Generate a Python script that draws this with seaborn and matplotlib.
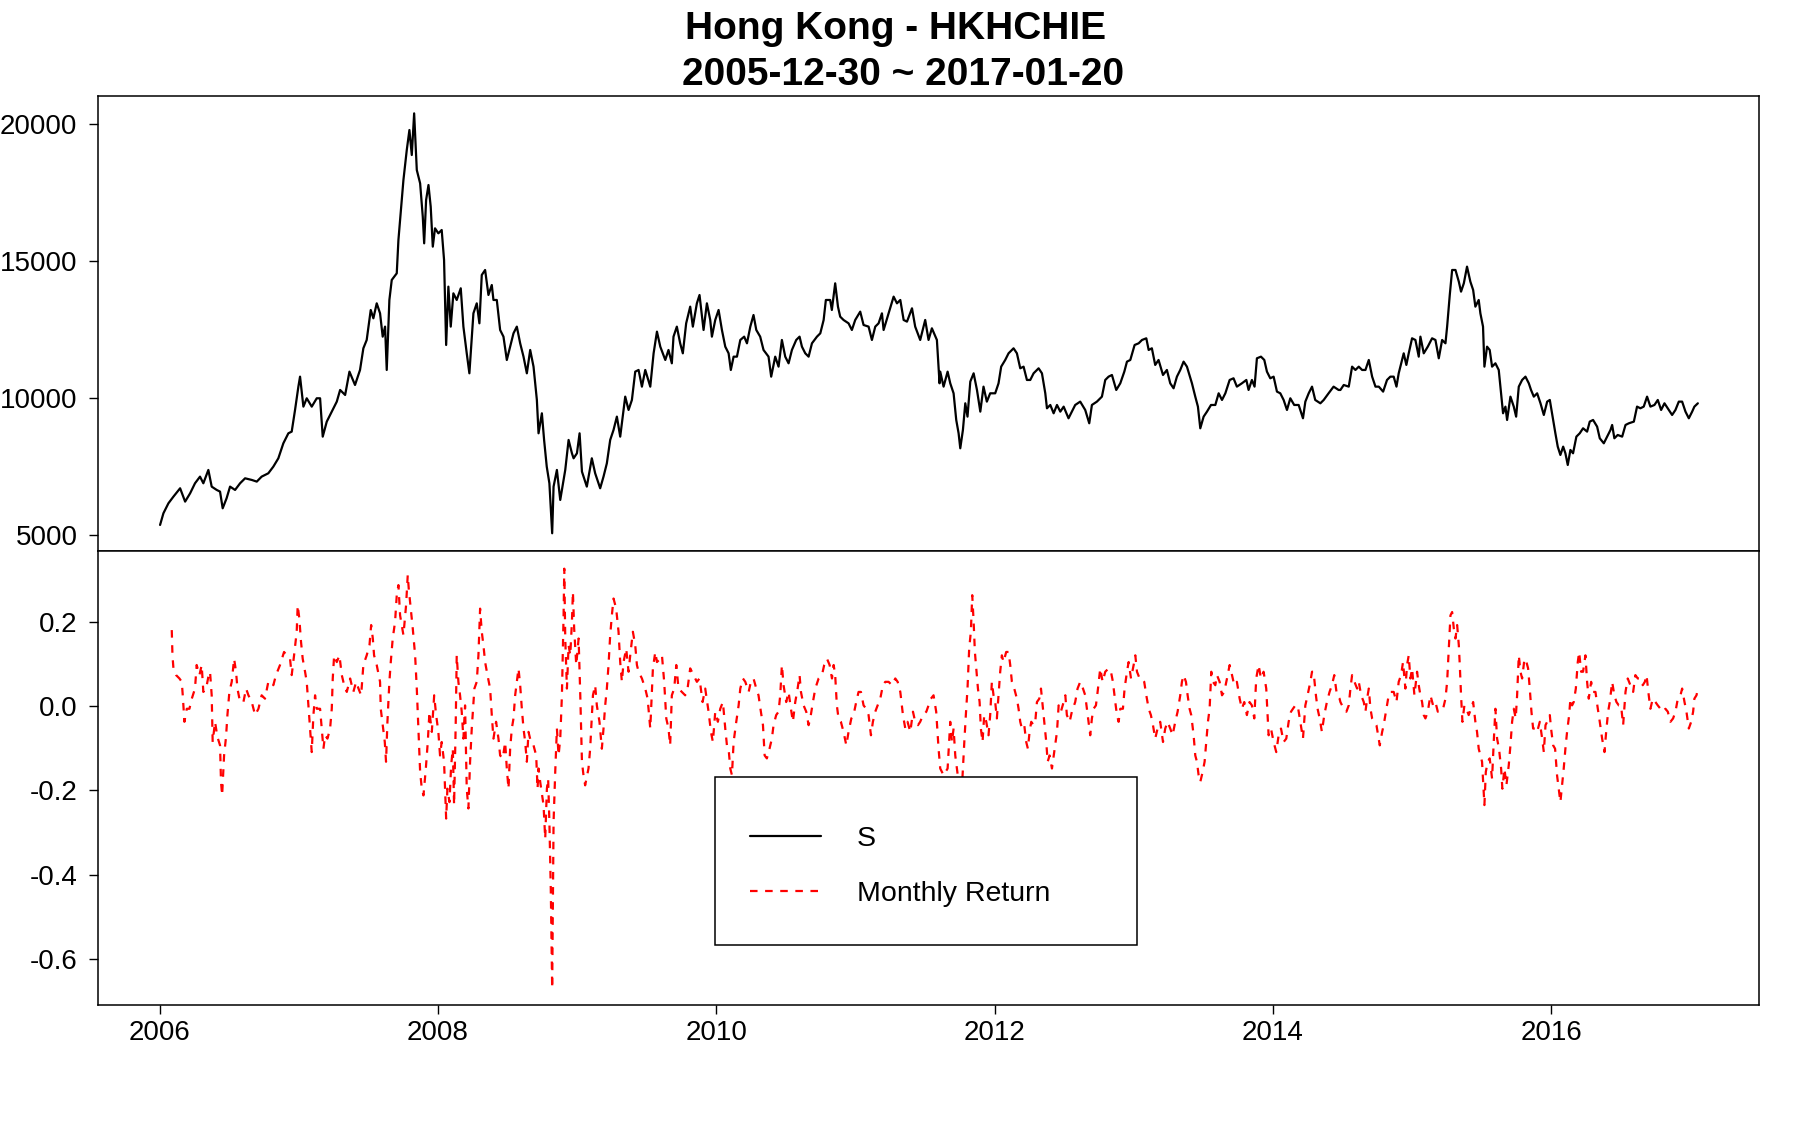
import matplotlib
matplotlib.use("Agg")
import matplotlib.pyplot as plt
from matplotlib.lines import Line2D
from matplotlib.patches import Rectangle
import pandas as pd
import seaborn as sns

# ---------------- data ----------------
title_line1 = "Hong Kong - HKHCHIE"
title_line2 = "2005-12-30 ~ 2017-01-20"
x_ticks = [2006, 2008, 2010, 2012, 2014, 2016]
s_ticks = [5000, 10000, 15000, 20000]
r_ticks = [0.2, 0.0, -0.2, -0.4, -0.6]
legend_labels = ["S", "Monthly Return"]

# index level S (decimal year, value)
s_year = [
    2006.003, 2006.027, 2006.063, 2006.099, 2006.147, 2006.183, 2006.219, 2006.254, 2006.290, 2006.314,
    2006.350, 2006.374, 2006.410, 2006.434, 2006.453, 2006.481, 2006.506, 2006.542, 2006.578, 2006.614,
    2006.662, 2006.698, 2006.733, 2006.781, 2006.817, 2006.853, 2006.889, 2006.925, 2006.949, 2006.973,
    2006.997, 2007.009, 2007.033, 2007.057, 2007.093, 2007.129, 2007.153, 2007.172, 2007.201, 2007.237,
    2007.273, 2007.297, 2007.333, 2007.364, 2007.404, 2007.440, 2007.464, 2007.488, 2007.517, 2007.536,
    2007.560, 2007.584, 2007.603, 2007.620, 2007.632, 2007.651, 2007.668, 2007.704, 2007.716, 2007.752,
    2007.776, 2007.795, 2007.812, 2007.829, 2007.848, 2007.872, 2007.891, 2007.901, 2007.915, 2007.932,
    2007.948, 2007.963, 2007.979, 2008.003, 2008.027, 2008.044, 2008.059, 2008.075, 2008.092, 2008.111,
    2008.135, 2008.164, 2008.183, 2008.207, 2008.226, 2008.255, 2008.279, 2008.298, 2008.315, 2008.339,
    2008.363, 2008.387, 2008.399, 2008.423, 2008.447, 2008.471, 2008.495, 2008.519, 2008.543, 2008.567,
    2008.591, 2008.615, 2008.639, 2008.663, 2008.687, 2008.711, 2008.723, 2008.747, 2008.763, 2008.782,
    2008.801, 2008.821, 2008.831, 2008.855, 2008.879, 2008.915, 2008.939, 2008.963, 2008.975, 2008.999,
    2009.018, 2009.035, 2009.070, 2009.106, 2009.130, 2009.166, 2009.190, 2009.214, 2009.238, 2009.262,
    2009.286, 2009.310, 2009.346, 2009.370, 2009.394, 2009.418, 2009.442, 2009.466, 2009.490, 2009.526,
    2009.550, 2009.574, 2009.598, 2009.634, 2009.657, 2009.681, 2009.693, 2009.717, 2009.741, 2009.760,
    2009.784, 2009.813, 2009.832, 2009.861, 2009.880, 2009.909, 2009.933, 2009.957, 2009.969, 2009.993,
    2010.017, 2010.041, 2010.065, 2010.089, 2010.105, 2010.125, 2010.149, 2010.173, 2010.201, 2010.221,
    2010.245, 2010.268, 2010.288, 2010.316, 2010.340, 2010.376, 2010.395, 2010.424, 2010.448, 2010.472,
    2010.496, 2010.520, 2010.544, 2010.575, 2010.599, 2010.616, 2010.640, 2010.664, 2010.688, 2010.724,
    2010.748, 2010.772, 2010.788, 2010.819, 2010.831, 2010.855, 2010.875, 2010.891, 2010.915, 2010.951,
    2010.975, 2010.999, 2011.035, 2011.059, 2011.095, 2011.119, 2011.143, 2011.167, 2011.191, 2011.203,
    2011.239, 2011.275, 2011.299, 2011.323, 2011.347, 2011.371, 2011.407, 2011.430, 2011.466, 2011.502,
    2011.526, 2011.550, 2011.586, 2011.605, 2011.610, 2011.634, 2011.663, 2011.682, 2011.706, 2011.725,
    2011.742, 2011.754, 2011.773, 2011.790, 2011.806, 2011.826, 2011.850, 2011.874, 2011.898, 2011.921,
    2011.945, 2011.969, 2012.005, 2012.029, 2012.048, 2012.077, 2012.101, 2012.137, 2012.161, 2012.185,
    2012.209, 2012.233, 2012.257, 2012.281, 2012.317, 2012.341, 2012.365, 2012.377, 2012.401, 2012.425,
    2012.449, 2012.473, 2012.497, 2012.532, 2012.556, 2012.580, 2012.616, 2012.652, 2012.681, 2012.700,
    2012.736, 2012.772, 2012.796, 2012.820, 2012.844, 2012.875, 2012.904, 2012.933, 2012.952, 2012.976,
    2013.007, 2013.036, 2013.060, 2013.091, 2013.108, 2013.131, 2013.155, 2013.179, 2013.211, 2013.239,
    2013.263, 2013.287, 2013.311, 2013.335, 2013.359, 2013.383, 2013.419, 2013.443, 2013.462, 2013.479,
    2013.503, 2013.527, 2013.556, 2013.587, 2013.611, 2013.635, 2013.659, 2013.690, 2013.718, 2013.742,
    2013.778, 2013.810, 2013.826, 2013.850, 2013.869, 2013.886, 2013.915, 2013.939, 2013.958, 2013.982,
    2014.006, 2014.030, 2014.054, 2014.078, 2014.102, 2014.126, 2014.154, 2014.186, 2014.217, 2014.234,
    2014.258, 2014.282, 2014.305, 2014.342, 2014.366, 2014.401, 2014.437, 2014.473, 2014.486, 2014.510,
    2014.546, 2014.570, 2014.594, 2014.618, 2014.642, 2014.666, 2014.690, 2014.714, 2014.738, 2014.762,
    2014.793, 2014.821, 2014.845, 2014.869, 2014.889, 2014.905, 2014.929, 2014.941, 2014.960, 2014.977,
    2015.001, 2015.025, 2015.049, 2015.061, 2015.085, 2015.114, 2015.145, 2015.169, 2015.193, 2015.217,
    2015.241, 2015.253, 2015.272, 2015.289, 2015.313, 2015.337, 2015.353, 2015.373, 2015.396, 2015.420,
    2015.440, 2015.456, 2015.480, 2015.492, 2015.511, 2015.521, 2015.540, 2015.559, 2015.576, 2015.600,
    2015.624, 2015.641, 2015.655, 2015.672, 2015.684, 2015.708, 2015.732, 2015.749, 2015.768, 2015.792,
    2015.816, 2015.840, 2015.856, 2015.876, 2015.900, 2015.924, 2015.948, 2015.972, 2015.991, 2016.015,
    2016.031, 2016.048, 2016.067, 2016.087, 2016.103, 2016.120, 2016.139, 2016.158, 2016.182, 2016.206,
    2016.230, 2016.259, 2016.278, 2016.302, 2016.331, 2016.350, 2016.379, 2016.403, 2016.427, 2016.439,
    2016.455, 2016.479, 2016.511, 2016.535, 2016.559, 2016.595, 2016.618, 2016.642, 2016.666, 2016.690,
    2016.714, 2016.743, 2016.767, 2016.791, 2016.815, 2016.846, 2016.870, 2016.894, 2016.918, 2016.942,
    2016.966, 2016.990, 2017.014, 2017.030, 2017.055,
]
s_value = [
    5363, 5789, 6154, 6397, 6702, 6215, 6519, 6884, 7127, 6884,
    7371, 6762, 6641, 6580, 5971, 6336, 6762, 6641, 6884, 7066,
    7006, 6945, 7127, 7249, 7492, 7796, 8344, 8709, 8770, 9561,
    10412, 10777, 9682, 9987, 9682, 9987, 9987, 8587, 9135, 9500,
    9865, 10291, 10108, 10960, 10473, 11021, 11812, 12116, 13211, 12907,
    13454, 13089, 12237, 12603, 11021, 13576, 14306, 14549, 15766, 17956,
    19051, 19781, 18868, 20389, 18321, 17834, 16618, 15644, 17226, 17773,
    16983, 15523, 16192, 16009, 16131, 15036, 11933, 14063, 12603, 13819,
    13576, 14002, 12603, 11629, 10899, 13089, 13454, 12724, 14488, 14671,
    13758, 14123, 13576, 13576, 12481, 12237, 11386, 11872, 12359, 12603,
    11994, 11507, 10899, 11751, 11142, 9926, 8709, 9439, 8466, 7492,
    6884, 5059, 6762, 7371, 6276, 7371, 8466, 7979, 7796, 7979,
    8709, 7310, 6762, 7796, 7249, 6702, 7127, 7614, 8466, 8831,
    9317, 8587, 10047, 9561, 9926, 10960, 11021, 10412, 11021, 10412,
    11629, 12420, 11872, 11386, 11751, 11264, 12237, 12603, 11994, 11629,
    12724, 13332, 12603, 13454, 13758, 12481, 13454, 12846, 12237, 12846,
    13211, 12481, 11872, 11629, 11021, 11507, 11507, 12116, 12237, 11994,
    12603, 13028, 12481, 12237, 11751, 11507, 10777, 11507, 11142, 12116,
    11507, 11264, 11751, 12116, 12237, 11872, 11629, 11507, 11994, 12237,
    12359, 12846, 13576, 13576, 13211, 14184, 13332, 12967, 12846, 12724,
    12481, 12846, 13150, 12663, 12603, 12116, 12603, 12724, 13089, 12481,
    13089, 13698, 13454, 13576, 12846, 12785, 13272, 12603, 12116, 12846,
    12116, 12542, 12116, 10534, 10960, 10412, 10960, 10534, 10169, 9196,
    8709, 8162, 8831, 9804, 9317, 10595, 10899, 10291, 9500, 10412,
    9865, 10169, 10169, 10534, 11142, 11386, 11629, 11812, 11629, 11082,
    11142, 10656, 10656, 10899, 11082, 10899, 10169, 9622, 9743, 9439,
    9743, 9500, 9682, 9257, 9500, 9743, 9865, 9561, 9074, 9743,
    9865, 10047, 10656, 10777, 10838, 10291, 10534, 10960, 11325, 11386,
    11933, 11994, 12116, 12177, 11751, 11812, 11204, 11386, 10838, 11021,
    10534, 10352, 10777, 11021, 11325, 11142, 10534, 10047, 9682, 8892,
    9317, 9500, 9743, 9743, 10169, 9926, 10169, 10656, 10717, 10412,
    10534, 10656, 10291, 10656, 10412, 11447, 11507, 11386, 10960, 10717,
    10777, 10230, 10169, 9926, 9561, 9987, 9743, 9743, 9257, 9865,
    10169, 10412, 9926, 9804, 9926, 10169, 10412, 10291, 10291, 10473,
    10412, 11142, 11021, 11142, 11021, 11021, 11386, 10777, 10412, 10412,
    10230, 10656, 10777, 10777, 10412, 10899, 11386, 11629, 11204, 11629,
    12177, 12116, 11507, 12237, 11629, 11872, 12177, 12116, 11447, 12116,
    11994, 12603, 13758, 14671, 14671, 14245, 13880, 14184, 14793, 14245,
    13941, 13332, 13576, 13089, 12603, 11142, 11872, 11751, 11142, 11264,
    11021, 10169, 9439, 9682, 9196, 10047, 9682, 9317, 10412, 10656,
    10777, 10534, 10291, 10047, 10169, 9804, 9378, 9865, 9926, 9196,
    8709, 8222, 7918, 8222, 7979, 7553, 8101, 7979, 8587, 8709,
    8892, 8770, 9135, 9196, 8952, 8527, 8344, 8587, 8831, 9013,
    8527, 8648, 8587, 9013, 9074, 9135, 9683, 9622, 9683, 10047,
    9683, 9743, 9926, 9561, 9804, 9561, 9378, 9561, 9865, 9865,
    9500, 9257, 9500, 9682, 9804,
]

# monthly return (decimal year, value)
r_year = [
    2006.087, 2006.092, 2006.099, 2006.118, 2006.142, 2006.159, 2006.166, 2006.178, 2006.195, 2006.214,
    2006.231, 2006.254, 2006.266, 2006.286, 2006.302, 2006.314, 2006.334, 2006.350, 2006.362, 2006.374,
    2006.381, 2006.398, 2006.415, 2006.434, 2006.441, 2006.449, 2006.463, 2006.477, 2006.487, 2006.501,
    2006.518, 2006.535, 2006.549, 2006.559, 2006.578, 2006.602, 2006.621, 2006.638, 2006.662, 2006.686,
    2006.710, 2006.733, 2006.757, 2006.781, 2006.805, 2006.817, 2006.836, 2006.865, 2006.894, 2006.913,
    2006.937, 2006.949, 2006.966, 2006.985, 2006.992, 2007.004, 2007.016, 2007.028, 2007.045, 2007.057,
    2007.069, 2007.081, 2007.093, 2007.105, 2007.117, 2007.129, 2007.153, 2007.165, 2007.177, 2007.189,
    2007.206, 2007.225, 2007.237, 2007.244, 2007.254, 2007.273, 2007.292, 2007.309, 2007.326, 2007.345,
    2007.369, 2007.392, 2007.412, 2007.429, 2007.448, 2007.464, 2007.488, 2007.508, 2007.520, 2007.532,
    2007.541, 2007.560, 2007.584, 2007.589, 2007.603, 2007.618, 2007.627, 2007.637, 2007.651, 2007.661,
    2007.675, 2007.692, 2007.704, 2007.716, 2007.728, 2007.740, 2007.752, 2007.771, 2007.783, 2007.790,
    2007.805, 2007.819, 2007.836, 2007.848, 2007.862, 2007.872, 2007.884, 2007.896, 2007.913, 2007.927,
    2007.939, 2007.956, 2007.973, 2007.987, 2008.003, 2008.015, 2008.027, 2008.044, 2008.059, 2008.068,
    2008.083, 2008.095, 2008.107, 2008.116, 2008.128, 2008.135, 2008.147, 2008.159, 2008.171, 2008.183,
    2008.195, 2008.207, 2008.219, 2008.231, 2008.243, 2008.262, 2008.279, 2008.291, 2008.303, 2008.315,
    2008.327, 2008.339, 2008.356, 2008.375, 2008.387, 2008.399, 2008.418, 2008.435, 2008.447, 2008.466,
    2008.483, 2008.495, 2008.507, 2008.519, 2008.531, 2008.543, 2008.555, 2008.567, 2008.579, 2008.591,
    2008.603, 2008.615, 2008.627, 2008.639, 2008.651, 2008.668, 2008.687, 2008.706, 2008.716, 2008.723,
    2008.735, 2008.749, 2008.759, 2008.771, 2008.783, 2008.792, 2008.801, 2008.811, 2008.821, 2008.831,
    2008.843, 2008.855, 2008.867, 2008.879, 2008.891, 2008.903, 2008.908, 2008.915, 2008.927, 2008.939,
    2008.951, 2008.963, 2008.970, 2008.979, 2008.994, 2009.011, 2009.023, 2009.035, 2009.046, 2009.058,
    2009.082, 2009.094, 2009.114, 2009.130, 2009.142, 2009.161, 2009.178, 2009.190, 2009.202, 2009.214,
    2009.226, 2009.238, 2009.250, 2009.262, 2009.281, 2009.298, 2009.310, 2009.322, 2009.334, 2009.353,
    2009.370, 2009.382, 2009.401, 2009.418, 2009.430, 2009.442, 2009.466, 2009.490, 2009.507, 2009.526,
    2009.545, 2009.562, 2009.574, 2009.598, 2009.610, 2009.626, 2009.641, 2009.657, 2009.669, 2009.681,
    2009.698, 2009.713, 2009.729, 2009.753, 2009.777, 2009.794, 2009.813, 2009.837, 2009.861, 2009.880,
    2009.902, 2009.921, 2009.945, 2009.962, 2009.976, 2009.993, 2010.012, 2010.029, 2010.048, 2010.065,
    2010.077, 2010.089, 2010.101, 2010.113, 2010.125, 2010.144, 2010.161, 2010.173, 2010.192, 2010.209,
    2010.233, 2010.249, 2010.268, 2010.288, 2010.304, 2010.321, 2010.336, 2010.348, 2010.364, 2010.383,
    2010.400, 2010.412, 2010.431, 2010.448, 2010.460, 2010.472, 2010.484, 2010.503, 2010.520, 2010.537,
    2010.551, 2010.568, 2010.585, 2010.599, 2010.609, 2010.628, 2010.647, 2010.664, 2010.676, 2010.695,
    2010.712, 2010.736, 2010.760, 2010.776, 2010.796, 2010.815, 2010.832, 2010.844, 2010.855, 2010.867,
    2010.879, 2010.896, 2010.915, 2010.935, 2010.951, 2010.971, 2010.987, 2011.006, 2011.023, 2011.040,
    2011.059, 2011.078, 2011.095, 2011.112, 2011.126, 2011.143, 2011.160, 2011.179, 2011.198, 2011.215,
    2011.239, 2011.263, 2011.287, 2011.304, 2011.323, 2011.342, 2011.359, 2011.375, 2011.395, 2011.414,
    2011.430, 2011.450, 2011.466, 2011.486, 2011.510, 2011.526, 2011.543, 2011.562, 2011.581, 2011.598,
    2011.610, 2011.634, 2011.663, 2011.682, 2011.694, 2011.706, 2011.718, 2011.730, 2011.742, 2011.754,
    2011.763, 2011.773, 2011.783, 2011.794, 2011.806, 2011.818, 2011.830, 2011.840, 2011.850, 2011.859,
    2011.869, 2011.881, 2011.893, 2011.902, 2011.914, 2011.926, 2011.941, 2011.957, 2011.969, 2011.981,
    2011.993, 2012.005, 2012.017, 2012.029, 2012.041, 2012.053, 2012.065, 2012.084, 2012.101, 2012.113,
    2012.125, 2012.142, 2012.161, 2012.173, 2012.185, 2012.197, 2012.214, 2012.228, 2012.240, 2012.252,
    2012.264, 2012.281, 2012.293, 2012.305, 2012.322, 2012.334, 2012.353, 2012.372, 2012.382, 2012.396,
    2012.413, 2012.429, 2012.449, 2012.461, 2012.477, 2012.497, 2012.509, 2012.520, 2012.540, 2012.556,
    2012.580, 2012.597, 2012.616, 2012.636, 2012.652, 2012.664, 2012.676, 2012.688, 2012.700, 2012.712,
    2012.729, 2012.741, 2012.760, 2012.777, 2012.796, 2012.820, 2012.837, 2012.851, 2012.868, 2012.880,
    2012.892, 2012.904, 2012.923, 2012.935, 2012.952, 2012.964, 2012.981, 2013.000, 2013.012, 2013.024,
    2013.043, 2013.060, 2013.076, 2013.091, 2013.108, 2013.124, 2013.139, 2013.155, 2013.172, 2013.191,
    2013.211, 2013.227, 2013.244, 2013.263, 2013.280, 2013.299, 2013.316, 2013.335, 2013.347, 2013.359,
    2013.376, 2013.388, 2013.402, 2013.414, 2013.431, 2013.443, 2013.455, 2013.467, 2013.479, 2013.496,
    2013.510, 2013.522, 2013.534, 2013.546, 2013.558, 2013.570, 2013.587, 2013.599, 2013.618, 2013.635,
    2013.651, 2013.671, 2013.690, 2013.707, 2013.723, 2013.742, 2013.762, 2013.778, 2013.795, 2013.814,
    2013.833, 2013.850, 2013.867, 2013.881, 2013.898, 2013.915, 2013.934, 2013.953, 2013.970, 2013.987,
    2014.006, 2014.025, 2014.042, 2014.059, 2014.078, 2014.097, 2014.114, 2014.131, 2014.145, 2014.162,
    2014.179, 2014.198, 2014.217, 2014.234, 2014.250, 2014.270, 2014.282, 2014.293, 2014.310, 2014.322,
    2014.337, 2014.353, 2014.370, 2014.389, 2014.408, 2014.425, 2014.442, 2014.461, 2014.480, 2014.486,
    2014.510, 2014.529, 2014.546, 2014.558, 2014.570, 2014.587, 2014.606, 2014.618, 2014.635, 2014.654,
    2014.666, 2014.678, 2014.690, 2014.702, 2014.714, 2014.730, 2014.745, 2014.757, 2014.769, 2014.786,
    2014.797, 2014.809, 2014.821, 2014.833, 2014.845, 2014.869, 2014.889, 2014.905, 2014.922, 2014.936,
    2014.953, 2014.965, 2014.977, 2014.989, 2015.001, 2015.018, 2015.037, 2015.049, 2015.061, 2015.073,
    2015.085, 2015.097, 2015.114, 2015.133, 2015.152, 2015.169, 2015.186, 2015.205, 2015.224, 2015.241,
    2015.253, 2015.265, 2015.277, 2015.289, 2015.301, 2015.313, 2015.325, 2015.337, 2015.344, 2015.353,
    2015.363, 2015.377, 2015.392, 2015.408, 2015.425, 2015.440, 2015.456, 2015.468, 2015.480, 2015.492,
    2015.504, 2015.521, 2015.531, 2015.545, 2015.559, 2015.576, 2015.588, 2015.600, 2015.612, 2015.626,
    2015.641, 2015.650, 2015.665, 2015.679, 2015.696, 2015.708, 2015.720, 2015.732, 2015.746, 2015.756,
    2015.768, 2015.780, 2015.792, 2015.809, 2015.823, 2015.835, 2015.847, 2015.859, 2015.871, 2015.888,
    2015.900, 2015.919, 2015.936, 2015.948, 2015.960, 2015.972, 2015.991, 2016.000, 2016.015, 2016.029,
    2016.043, 2016.055, 2016.067, 2016.079, 2016.091, 2016.103, 2016.115, 2016.130, 2016.139, 2016.151,
    2016.163, 2016.178, 2016.192, 2016.202, 2016.216, 2016.230, 2016.247, 2016.259, 2016.271, 2016.288,
    2016.302, 2016.319, 2016.336, 2016.350, 2016.367, 2016.384, 2016.396, 2016.410, 2016.422, 2016.439,
    2016.455, 2016.470, 2016.487, 2016.503, 2016.518, 2016.535, 2016.551, 2016.570, 2016.590, 2016.606,
    2016.623, 2016.642, 2016.659, 2016.674, 2016.686, 2016.702, 2016.714, 2016.731, 2016.750, 2016.767,
    2016.786, 2016.803, 2016.822, 2016.839, 2016.858, 2016.877, 2016.894, 2016.911, 2016.930, 2016.942,
    2016.959, 2016.973, 2016.990, 2017.007, 2017.021, 2017.030, 2017.045, 2017.059,
]
r_value = [
    0.181, 0.121, 0.090, 0.074, 0.066, 0.058, 0.026, -0.037, -0.006, -0.006,
    0.018, 0.042, 0.098, 0.074, 0.098, 0.034, 0.042, 0.070, 0.082, 0.026,
    -0.085, -0.037, -0.073, -0.093, -0.180, -0.212, -0.117, -0.073, -0.021, 0.034,
    0.058, 0.113, 0.082, 0.042, 0.010, 0.010, 0.042, 0.026, 0.010, -0.021,
    -0.006, 0.026, 0.018, 0.058, 0.058, 0.050, 0.074, 0.098, 0.129, 0.121,
    0.113, 0.074, 0.121, 0.177, 0.240, 0.208, 0.153, 0.113, 0.082, 0.058,
    0.002, -0.053, -0.109, -0.021, 0.026, -0.006, -0.006, -0.053, -0.101, -0.069,
    -0.077, -0.053, -0.006, 0.066, 0.121, 0.105, 0.121, 0.074, 0.050, 0.034,
    0.066, 0.034, 0.058, 0.042, 0.026, 0.098, 0.121, 0.145, 0.193, 0.161,
    0.121, 0.098, 0.058, -0.006, -0.045, -0.085, -0.132, -0.037, 0.058, 0.105,
    0.161, 0.201, 0.264, 0.288, 0.216, 0.193, 0.169, 0.240, 0.312, 0.280,
    0.232, 0.185, 0.121, 0.042, -0.077, -0.156, -0.196, -0.212, -0.148, -0.085,
    -0.013, -0.061, 0.026, -0.021, -0.061, -0.117, -0.085, -0.132, -0.267, -0.196,
    -0.228, -0.140, -0.101, -0.235, -0.037, 0.121, 0.058, 0.026, -0.013, -0.077,
    0.002, -0.196, -0.243, -0.132, -0.053, 0.042, 0.058, 0.121, 0.232, 0.177,
    0.145, 0.105, 0.074, 0.042, -0.021, -0.077, -0.037, -0.077, -0.117, -0.124,
    -0.085, -0.148, -0.196, -0.101, -0.053, -0.029, 0.026, 0.058, 0.090, 0.050,
    -0.006, -0.053, -0.085, -0.132, -0.061, -0.085, -0.093, -0.117, -0.196, -0.148,
    -0.180, -0.212, -0.235, -0.315, -0.196, -0.172, -0.275, -0.434, -0.671, -0.275,
    -0.156, -0.053, -0.117, -0.077, 0.026, 0.216, 0.327, 0.161, 0.042, 0.145,
    0.121, 0.201, 0.272, 0.185, 0.098, 0.161, 0.026, -0.132, -0.164, -0.188,
    -0.148, -0.101, 0.026, 0.050, 0.002, -0.037, -0.101, -0.053, 0.002, 0.042,
    0.098, 0.169, 0.216, 0.256, 0.232, 0.177, 0.105, 0.058, 0.105, 0.137,
    0.082, 0.121, 0.177, 0.145, 0.098, 0.082, 0.066, 0.042, 0.018, -0.053,
    0.090, 0.129, 0.105, 0.113, 0.121, 0.058, -0.029, -0.053, -0.093, 0.026,
    0.042, 0.098, 0.042, 0.034, 0.026, 0.042, 0.090, 0.074, 0.058, 0.066,
    0.010, 0.042, -0.013, -0.061, -0.085, -0.013, -0.037, -0.006, 0.010, -0.053,
    -0.093, -0.101, -0.148, -0.164, -0.085, -0.037, 0.002, 0.042, 0.066, 0.058,
    0.034, 0.058, 0.066, 0.042, 0.026, -0.013, -0.045, -0.117, -0.124, -0.101,
    -0.077, -0.045, -0.021, -0.013, 0.026, 0.098, 0.050, 0.010, 0.034, -0.006,
    -0.037, 0.010, 0.042, 0.074, 0.034, 0.002, -0.013, -0.045, -0.029, 0.010,
    0.042, 0.066, 0.074, 0.098, 0.113, 0.098, 0.066, 0.098, 0.074, 0.002,
    -0.029, -0.037, -0.061, -0.093, -0.061, -0.029, -0.021, 0.010, 0.034, 0.034,
    0.002, -0.006, -0.021, -0.069, -0.037, -0.013, 0.002, 0.018, 0.050, 0.058,
    0.058, 0.050, 0.066, 0.058, 0.034, -0.021, -0.053, -0.037, -0.061, -0.013,
    -0.037, -0.045, -0.037, -0.021, -0.013, 0.002, 0.018, 0.026, -0.013, -0.101,
    -0.148, -0.164, -0.148, -0.037, -0.085, -0.053, -0.117, -0.148, -0.180, -0.228,
    -0.212, -0.148, -0.085, -0.021, 0.042, 0.137, 0.177, 0.264, 0.201, 0.129,
    0.090, 0.042, 0.010, -0.053, -0.085, -0.021, -0.037, -0.069, -0.021, 0.058,
    0.026, 0.010, -0.029, 0.026, 0.082, 0.121, 0.105, 0.129, 0.129, 0.098,
    0.058, 0.042, 0.018, -0.006, -0.037, -0.053, -0.045, -0.085, -0.101, -0.061,
    -0.037, -0.045, -0.037, 0.010, 0.018, 0.042, -0.021, -0.085, -0.132, -0.117,
    -0.148, -0.109, -0.061, 0.002, -0.013, 0.010, 0.026, -0.021, -0.037, -0.013,
    0.010, 0.042, 0.058, 0.042, 0.026, -0.006, -0.037, -0.069, -0.029, -0.006,
    0.002, 0.034, 0.090, 0.058, 0.082, 0.090, 0.082, 0.058, 0.010, -0.021,
    -0.037, -0.006, -0.006, 0.042, 0.082, 0.105, 0.066, 0.098, 0.121, 0.082,
    0.066, 0.066, 0.058, 0.026, -0.006, -0.021, -0.045, -0.077, -0.053, -0.037,
    -0.085, -0.053, -0.037, -0.053, -0.069, -0.037, -0.013, 0.026, 0.058, 0.074,
    0.058, 0.026, -0.006, -0.021, -0.069, -0.117, -0.132, -0.164, -0.180, -0.156,
    -0.132, -0.085, -0.037, -0.006, 0.082, 0.058, 0.050, 0.074, 0.058, 0.026,
    0.034, 0.066, 0.098, 0.074, 0.050, 0.058, 0.018, -0.006, 0.010, -0.021,
    0.010, 0.002, -0.029, 0.066, 0.098, 0.066, 0.082, 0.042, -0.069, -0.053,
    -0.085, -0.109, -0.069, -0.053, -0.085, -0.077, -0.037, -0.013, -0.006, 0.002,
    0.002, -0.037, -0.077, 0.002, 0.026, 0.058, 0.082, 0.082, 0.026, -0.006,
    -0.029, -0.061, -0.021, 0.010, 0.034, 0.050, 0.074, 0.026, 0.018, 0.010,
    -0.006, -0.013, 0.002, 0.042, 0.074, 0.058, 0.042, 0.058, 0.026, 0.010,
    -0.013, 0.018, 0.042, -0.006, -0.029, -0.037, -0.045, -0.069, -0.093, -0.061,
    -0.045, -0.021, 0.002, 0.026, 0.034, 0.034, 0.010, 0.058, 0.074, 0.105,
    0.042, 0.098, 0.121, 0.066, 0.090, 0.026, 0.082, 0.050, 0.026, 0.010,
    -0.021, -0.029, -0.013, 0.026, 0.002, 0.010, -0.013, -0.006, -0.006, 0.018,
    0.058, 0.137, 0.216, 0.224, 0.185, 0.161, 0.193, 0.145, 0.098, 0.026,
    -0.037, 0.002, -0.006, -0.021, -0.006, 0.010, -0.037, -0.061, -0.101, -0.117,
    -0.132, -0.235, -0.156, -0.132, -0.124, -0.172, -0.085, -0.006, -0.077, -0.101,
    -0.148, -0.196, -0.148, -0.188, -0.140, -0.093, -0.037, -0.006, -0.029, 0.026,
    0.121, 0.082, 0.066, 0.113, 0.105, 0.090, 0.042, -0.013, -0.053, -0.053,
    -0.061, -0.037, -0.077, -0.109, -0.045, -0.037, -0.021, -0.053, -0.093, -0.101,
    -0.164, -0.196, -0.228, -0.188, -0.148, -0.101, -0.061, -0.021, 0.018, 0.002,
    0.010, 0.042, 0.105, 0.129, 0.082, 0.082, 0.121, 0.058, 0.018, 0.058,
    0.034, 0.034, -0.006, -0.037, -0.077, -0.109, -0.061, -0.013, 0.010, 0.058,
    0.026, 0.010, 0.002, 0.002, -0.045, 0.034, 0.066, 0.050, 0.034, 0.074,
    0.066, 0.066, 0.050, 0.058, 0.074, 0.026, -0.006, 0.018, 0.010, 0.002,
    -0.006, -0.013, -0.006, -0.013, -0.037, -0.029, -0.013, 0.018, 0.026, 0.042,
    0.010, -0.013, -0.053, -0.037, -0.013, 0.018, 0.026, 0.046,
]

# ---------------- styling ----------------
sns.set_theme(style="ticks")
plt.rcParams["font.family"] = ["Liberation Sans", "DejaVu Sans"]
plt.rcParams["axes.unicode_minus"] = False

W, H = 1800, 1122
fig = plt.figure(figsize=(W / 100, H / 100), dpi=100)
fig.patch.set_facecolor("white")

left, right = 97.6 / W, 1758.8 / W
top_y, mid_y, bot_y = 96.4 / H, 551.0 / H, 1004.5 / H
ax1 = fig.add_axes([left, 1 - mid_y, right - left, mid_y - top_y])
ax2 = fig.add_axes([left, 1 - bot_y, right - left, bot_y - mid_y])

s_df = pd.DataFrame({"year": s_year, "value": s_value})
r_df = pd.DataFrame({"year": r_year, "value": r_value})

line_w = 1.6
dash = (0, (3.4, 3.4))

sns.lineplot(data=s_df, x="year", y="value", ax=ax1, color="black",
             linewidth=line_w, estimator=None, sort=False, legend=False)
sns.lineplot(data=r_df, x="year", y="value", ax=ax2, color="red",
             linewidth=line_w, linestyle=dash, estimator=None, sort=False, legend=False)

for ax in (ax1, ax2):
    ax.set_facecolor("white")
    ax.set_xlim(2005.554, 2017.493)
    ax.set_xlabel("")
    ax.set_ylabel("")
    ax.grid(False)
    for sp in ax.spines.values():
        sp.set_visible(True)
        sp.set_linewidth(1.1)
        sp.set_color("black")
    ax.tick_params(direction="out", length=6.5, width=1.0, color="black",
                   labelsize=20, labelcolor="black")
    ax.tick_params(axis="y", pad=8.0)

ax1.set_ylim(4412, 21008)
ax1.set_yticks(s_ticks)
ax1.set_yticklabels([str(v) for v in s_ticks])
ax1.set_xticks([])
ax1.tick_params(axis="x", bottom=False, labelbottom=False)

ax2.set_ylim(-0.709, 0.369)
ax2.set_yticks(r_ticks)
ax2.set_yticklabels([f"{v:.1f}" for v in r_ticks])
ax2.set_xticks(x_ticks)
ax2.set_xticklabels([str(v) for v in x_ticks])
ax2.tick_params(axis="x", pad=4.8)

# legend: white box with black border, entries placed inside it
box = Rectangle((715.0 / W, 1 - 945.0 / H), (1136.5 - 715.0) / W, (945.0 - 777.0) / H,
                transform=fig.transFigure, facecolor="white", edgecolor="black",
                linewidth=1.1, zorder=4.5)
ax2.add_patch(box)

handles = [Line2D([], [], color="black", linewidth=line_w),
           Line2D([], [], color="red", linewidth=line_w, linestyle=dash)]
leg = ax2.legend(handles, legend_labels, loc="center left",
                 bbox_to_anchor=(750.0 / W, 1 - 866.2 / H),
                 bbox_transform=fig.transFigure, borderaxespad=0, borderpad=0,
                 frameon=False, fontsize=20.5,
                 handlelength=2.49, handletextpad=1.26, labelspacing=1.01)
leg.set_zorder(5)
for t in leg.get_texts():
    t.set_color("black")

# title
fig.text(896.0 / W, 1 - 39.3 / H, title_line1, ha="center", va="baseline",
         fontsize=28, fontweight="bold", color="black")
fig.text(903.0 / W, 1 - 85.0 / H, title_line2, ha="center", va="baseline",
         fontsize=28, fontweight="bold", color="black")

fig.savefig("out.png", dpi=100, facecolor="white")
